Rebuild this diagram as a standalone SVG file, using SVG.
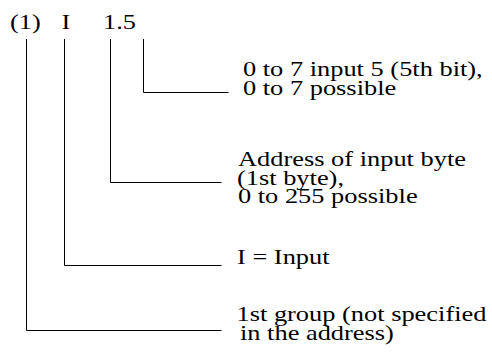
<svg xmlns="http://www.w3.org/2000/svg" width="492" height="354" viewBox="0 0 492 354">
<style>
text{font-family:"Liberation Serif","Times New Roman",serif;font-size:21px;fill:#000}
.c{stroke:#000;stroke-width:1;fill:none}
</style>
<rect width="492" height="354" fill="#fff"/>
<g id="address">
<text transform="translate(10,29) scale(1.257,1)">(1)</text>
<text transform="translate(61.5,29) scale(1.257,1)">I</text>
<text transform="translate(103,29) scale(1.257,1)">1.5</text>
</g>
<g id="connectors">
<path class="c" d="M143.5,39V92.5H228.5"/>
<path class="c" d="M110.5,39V182.5H221.5"/>
<path class="c" d="M64.5,39V265.5H221.5"/>
<path class="c" d="M26.5,39V330.5H221.5"/>
</g>
<g id="bit">
<text transform="translate(243,76) scale(1.257,1)">0 to 7 input 5 (5th bit),</text>
<text transform="translate(243,94.5) scale(1.257,1)">0 to 7 possible</text>
</g>
<g id="byte">
<text transform="translate(238,166) scale(1.257,1)">Address of input byte</text>
<text transform="translate(237,184.5) scale(1.257,1)">(1st byte),</text>
<text transform="translate(238,203) scale(1.257,1)">0 to 255 possible</text>
</g>
<g id="input">
<text transform="translate(237,264) scale(1.257,1)">I = Input</text>
</g>
<g id="group">
<text transform="translate(236.5,321) scale(1.257,1)">1st group (not specified</text>
<text transform="translate(240,339.5) scale(1.257,1)">in the address)</text>
</g>
</svg>
